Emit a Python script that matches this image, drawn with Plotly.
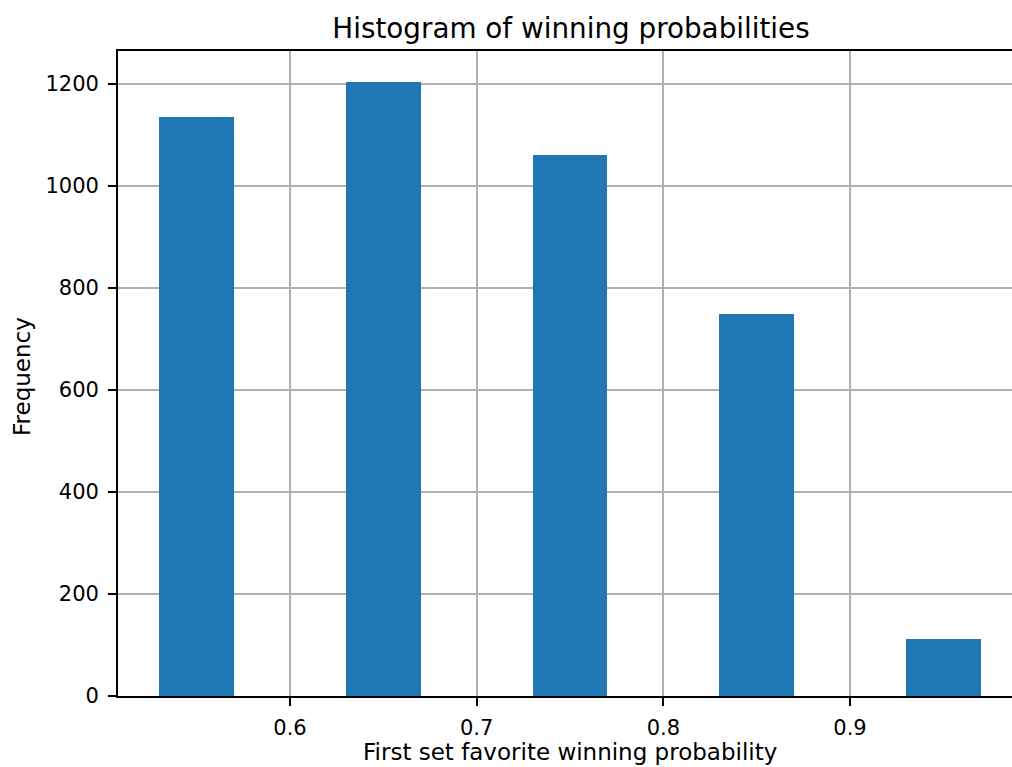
import plotly.graph_objects as go

# Histogram bins (centers) and counts
bin_centers = [0.55, 0.65, 0.75, 0.85, 0.95]
bin_width = 0.04
counts = [1135, 1203, 1060, 748, 111]

x_ticks = [0.6, 0.7, 0.8, 0.9]
x_tick_labels = ["0.6", "0.7", "0.8", "0.9"]
y_ticks = [0, 200, 400, 600, 800, 1000, 1200]

W, H = 1012, 767
L, R, T, B = 118, 0, 51, 71
PW, PH = W - L - R, H - T - B


def px_to_paper(px, py):
    return (px - L) / PW, (H - B - py) / PH


fig = go.Figure()
fig.add_trace(go.Bar(
    x=bin_centers, y=counts, width=bin_width,
    marker=dict(color="#1f77b4", line=dict(width=0)),
))

font = dict(family="DejaVu Sans", size=21, color="black")
label_font = dict(family="DejaVu Sans", size=23, color="black")

xl_x, xl_y = px_to_paper(570, 752)
yl_x, yl_y = px_to_paper(22, 377)

fig.update_layout(
    width=W, height=H,
    margin=dict(l=L, r=R, t=T, b=B, pad=0),
    plot_bgcolor="white", paper_bgcolor="white",
    showlegend=False,
    font=font,
    bargap=0,
    title=dict(text="Histogram of winning probabilities", x=571 / W, xref="container",
               xanchor="center", y=1 - 28 / H, yref="container", yanchor="middle",
               font=dict(family="DejaVu Sans", size=27.8, color="black")),
    xaxis=dict(range=[0.50787, 0.98677], tickvals=x_ticks, ticktext=x_tick_labels,
               showgrid=True, gridcolor="#b0b0b0", gridwidth=1.5,
               showline=True, linecolor="black", linewidth=1.8, mirror=True,
               ticks="outside", ticklen=8, tickwidth=1.6, tickcolor="black",
               ticklabelstandoff=4,
               zeroline=False, tickfont=font),
    yaxis=dict(range=[0, 1264], tickvals=y_ticks,
               showgrid=True, gridcolor="#b0b0b0", gridwidth=1.5,
               showline=True, linecolor="black", linewidth=1.8,
               ticks="outside", ticklen=8, tickwidth=1.6, tickcolor="black",
               ticklabelstandoff=5,
               zeroline=False, tickfont=font),
    annotations=[
        dict(text="First set favorite winning probability", x=xl_x, y=xl_y,
             xref="paper", yref="paper", showarrow=False, xanchor="center", yanchor="middle",
             font=label_font),
        dict(text="Frequency", x=yl_x, y=yl_y, xref="paper", yref="paper",
             showarrow=False, textangle=-90, xanchor="center", yanchor="middle", font=label_font),
    ],
)

fig.write_html(
    "out.html",
    config={"displayModeBar": False},
    post_script="document.body.style.margin='0';document.body.style.overflow='hidden';",
)
